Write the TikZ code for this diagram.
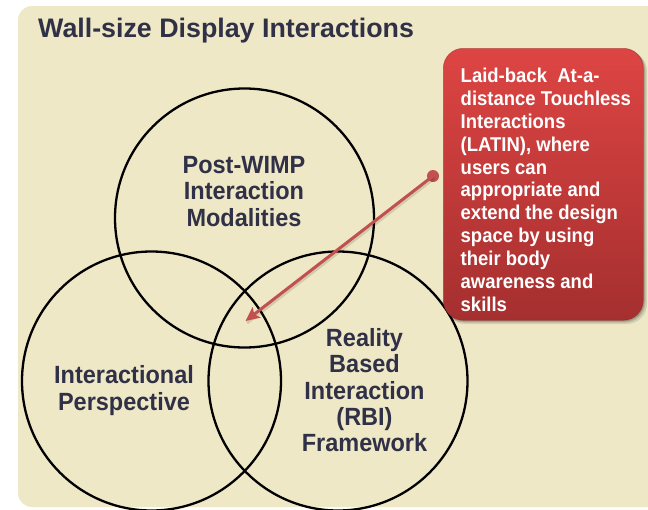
\documentclass[tikz,border=0pt]{standalone}
\usepackage{fontspec}
\setmainfont{Liberation Sans}
\usetikzlibrary{arrows.meta}
\definecolor{bg}{RGB}{238,232,198}
\definecolor{ink}{RGB}{48,48,70}
\definecolor{boxtop}{RGB}{221,69,67}
\definecolor{boxbot}{RGB}{165,47,47}
\definecolor{arrowred}{RGB}{193,80,78}
\tikzset{
  venn/.style={circle, draw=black, line width=2.3pt, minimum size=259pt, inner sep=0pt},
  vlabel/.style={font=\fontsize{23.5}{24.9}\selectfont\bfseries, text=ink, align=center, inner sep=0pt, yscale=1.06},
  boxtext/.style={font=\fontsize{18.5}{21.15}\selectfont\bfseries, text=white, align=left, inner sep=0pt, yscale=1.08},
}
\begin{document}
\begin{tikzpicture}[x=1pt,y=-1pt]
\useasboundingbox (0,0) rectangle (648,509);
\fill[white] (0,0) rectangle (648,509);
\fill[bg, rounded corners=14pt] (18,6) rectangle (690,507);
% title
\node[anchor=base west, inner sep=0pt, font=\fontsize{26.8}{30}\selectfont\bfseries, text=ink] (title) at (38,37) {Wall-size Display Interactions};
% circles
\node[venn] (ctop) at (244.5,218) {};
\node[venn] (cleft) at (151.5,381) {};
\node[venn] (cright) at (338,381) {};
% circle labels
\node[vlabel, anchor=north] (ltop) at (244,156) {Post-WIMP\\Interaction\\Modalities};
\node[vlabel, anchor=north] (lleft) at (124,365.5) {Interactional\\Perspective};
\node[vlabel, anchor=north] (lright) at (364.5,328) {Reality\\Based\\Interaction\\(RBI)\\Framework};
% red box shadow
\fill[black, opacity=0.10, rounded corners=20pt] (445,51) rectangle (647,324);
\fill[black, opacity=0.12, rounded corners=20pt] (444,50) rectangle (645.5,322.5);
\fill[black, opacity=0.15, rounded corners=20pt] (443.5,49) rectangle (644.5,321.5);
% red box
\node[anchor=north west, rounded corners=20pt, minimum width=200pt, minimum height=272pt,
      top color=boxtop, bottom color=boxbot, draw=boxbot!85!black, draw opacity=0.5, line width=0.6pt, inner sep=0pt] (latin) at (443,48) {};
\node[boxtext, anchor=north west] (latintext) at (460.5,68) {Laid-back\ \ At-a-\\distance Touchless\\Interactions\\(LATIN), where\\users can\\appropriate and\\extend the design\\space by using\\their body\\awareness and\\skills};
% arrow
\node[circle, fill=arrowred, minimum size=12pt, inner sep=0pt] (dot) at (433,176) {};
\coordinate (tip) at (245.5,321);
\draw[black, opacity=0.12, line width=3pt] ([shift={(1.5,2)}]dot.center) -- ([shift={(1.5,2)}]tip);
\draw[arrowred, line width=3pt, -{Stealth[length=14pt, width=13pt, inset=3pt]}] (dot.center) -- (tip);
\end{tikzpicture}
\end{document}
